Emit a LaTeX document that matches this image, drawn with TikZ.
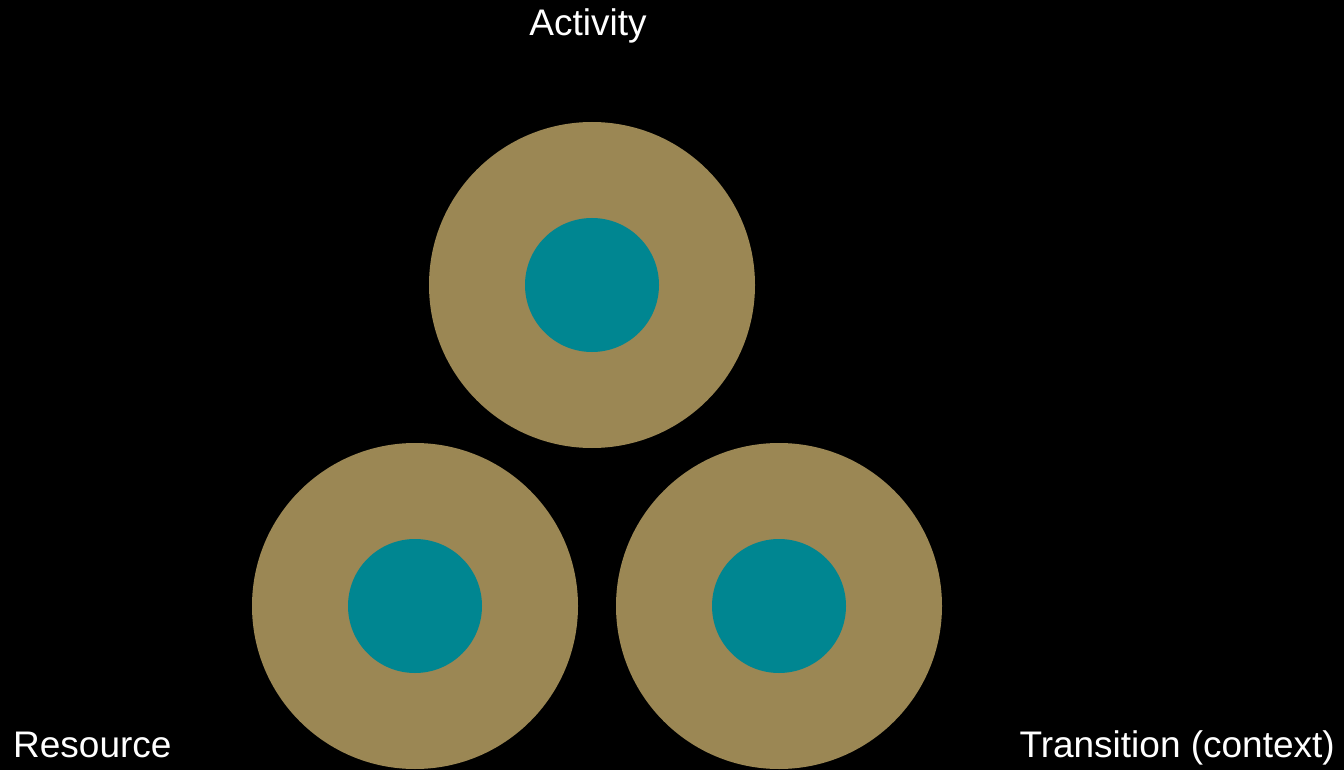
\documentclass[tikz,border=0pt]{standalone}
\usepackage{fontspec}
\setmainfont{Liberation Sans}
\usepackage{tikz}
\definecolor{ringtan}{HTML}{9B8754}
\definecolor{coreteal}{HTML}{008691}

\begin{document}
\begin{tikzpicture}[x=1pt,y=-1pt,
        ring/.style={circle,fill=ringtan,inner sep=0pt,minimum size=326pt},
        core/.style={circle,fill=coreteal,inner sep=0pt,minimum size=134pt},
        caption/.style={text=white,inner sep=0pt,font=\fontsize{37}{44}\selectfont}]
                \fill[black] (0,0) rectangle (1344,770);
                \useasboundingbox (0,0) rectangle (1344,770);

                \foreach \n/\x/\y in {act/592/285, res/415/606, tra/779/606}{
                    \node[ring] (\n) at (\x,\y) {};
                    \node[core] (\n-in) at (\n) {};
                }
                \node[caption,anchor=base] (act-lbl) at (588,36) {Activity};
                \node[caption,anchor=base west] (res-lbl) at (13,757) {Resource};
                \node[caption,anchor=base east] (tra-lbl) at (1335,757) {Transition (context)};
            \end{tikzpicture}
\end{document}
